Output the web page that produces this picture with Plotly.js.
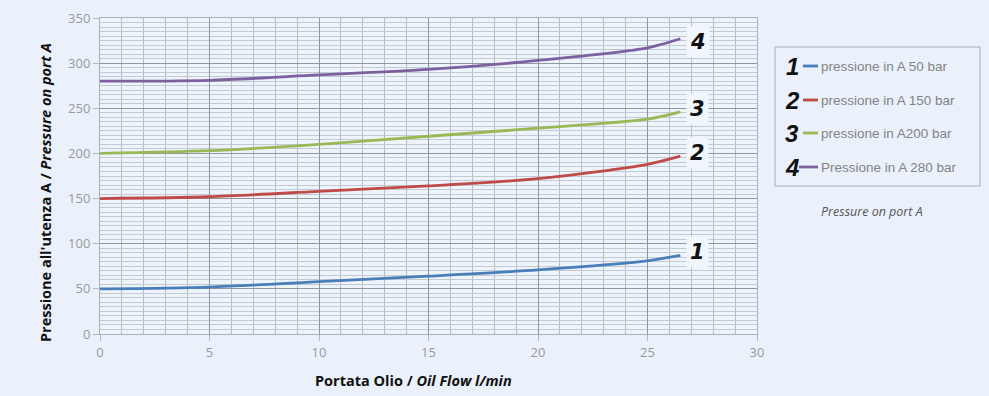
<!DOCTYPE html>
<html>
<head>
<meta charset="utf-8">
<script src="https://cdn.plot.ly/plotly-3.0.1.min.js"></script>
<style>html,body{margin:0;padding:0;background:#eaf1fb;}</style>
</head>
<body>
<div id="chart" style="width:989px;height:396px;"></div>
<script>
// Data
const flow = [0, 5, 10, 15, 20, 25, 26.5];
const p50  = [50, 52, 58, 64, 71, 81, 87];
const p150 = [150, 152, 158, 164, 172, 188, 197];
const p200 = [200, 203, 210, 219, 228, 238, 246];
const p280 = [280, 281, 287, 293, 303, 317, 327];
const seriesNames = ["pressione in A 50 bar", "pressione in A 150 bar", "pressione in A200 bar", "Pressione in A 280 bar"];
const seriesNums = ["1", "2", "3", "4"];
const seriesColors = ["#4a7ebb", "#be4b48", "#98b954", "#7d60a0"];
const seriesData = [p50, p150, p200, p280];

const traces = seriesData.map((ys, i) => ({
  x: flow, y: ys, type: "scatter", mode: "lines",
  line: {color: seriesColors[i], width: 2.8, shape: "spline", smoothing: 0.8},
  name: seriesNames[i], showlegend: false, hoverinfo: "skip"
}));

const annotations = [];
const shapes = [];
// number labels at the end of each curve
const labelOffsets = [4, 3, 3, -4];
seriesData.forEach((ys, i) => {
  annotations.push({
    x: 27.3, y: ys[ys.length - 1] + labelOffsets[i], xref: "x", yref: "y",
    xanchor: "center", yanchor: "middle",
    text: "<b><i>" + seriesNums[i] + "</i></b>", showarrow: false,
    font: {family: "DejaVu Sans", size: 21, color: "#111"},
    bgcolor: "#f1f6fc", borderpad: 3
  });
});

// custom legend (paper coordinates)
const W = 989, H = 396, mL = 100, mR = 232, mT = 18, mB = 62;
const pw = W - mL - mR, ph = H - mT - mB;
const px = v => (v - mL) / pw;
const py = v => (H - mB - v) / ph;
shapes.push({type: "rect", xref: "paper", yref: "paper",
  x0: px(775), x1: px(980), y0: py(47), y1: py(186),
  line: {color: "#9fb0c4", width: 1}, fillcolor: "#eaf1fb", layer: "below"});
const legY = [66, 100, 133, 167];
legY.forEach((yy, i) => {
  annotations.push({x: px(792), y: py(yy), xref: "paper", yref: "paper",
    xanchor: "center", yanchor: "middle",
    text: "<b><i>" + seriesNums[i] + "</i></b>", showarrow: false,
    font: {family: "Liberation Sans", size: 24, color: "#111"}});
  shapes.push({type: "line", xref: "paper", yref: "paper",
    x0: px(i === 3 ? 799 : 803), x1: px(818), y0: py(yy), y1: py(yy),
    line: {color: seriesColors[i], width: 2.8}});
  annotations.push({x: px(819), y: py(yy), xref: "paper", yref: "paper",
    xanchor: "left", yanchor: "middle", text: seriesNames[i], showarrow: false,
    font: {family: "Liberation Sans", size: 13.5, color: "#838383"}});
});
annotations.push({x: px(872), y: py(212), xref: "paper", yref: "paper",
  xanchor: "center", yanchor: "middle",
  text: "<i>Pressure on port A</i>", showarrow: false,
  font: {family: "Open Sans", size: 12.5, color: "#555"}});

// axis titles
annotations.push({x: px(413), y: py(381), xref: "paper", yref: "paper",
  xanchor: "center", yanchor: "middle",
  text: "<b>Portata Olio / <i>Oil Flow l/min</i></b>", showarrow: false,
  font: {family: "Open Sans", size: 14.5, color: "#111"}});
annotations.push({x: px(45), y: py(193), xref: "paper", yref: "paper",
  xanchor: "center", yanchor: "middle",
  text: "<b>Pressione all'utenza A / <i>Pressure on port A</i></b>", showarrow: false,
  textangle: -90, font: {family: "Open Sans", size: 14.5, color: "#111"}});

const layout = {
  width: W, height: H,
  margin: {l: mL, r: mR, t: mT, b: mB},
  paper_bgcolor: "#eaf1fb",
  plot_bgcolor: "#eef4fc",
  showlegend: false,
  xaxis: {
    range: [0, 30], dtick: 5, tick0: 0,
    showgrid: true, gridcolor: "#8f979f", gridwidth: 1,
    minor: {dtick: 1, showgrid: true, gridcolor: "#b4bcc4", gridwidth: 1},
    ticks: "outside", ticklen: 6, tickcolor: "#b0b8c0",
    showline: true, linecolor: "#a9b1b9", mirror: true, zeroline: false,
    tickfont: {family: "Open Sans", size: 13, color: "#999"}
  },
  yaxis: {
    range: [0, 350], dtick: 50, tick0: 0,
    showgrid: true, gridcolor: "#8f979f", gridwidth: 1,
    minor: {dtick: 5, showgrid: true, gridcolor: "#c3cad2", gridwidth: 1},
    ticks: "outside", ticklen: 6, tickcolor: "#b0b8c0",
    showline: true, linecolor: "#a9b1b9", mirror: true, zeroline: false,
    tickfont: {family: "Open Sans", size: 13, color: "#999"}
  },
  annotations: annotations,
  shapes: shapes
};

Plotly.newPlot("chart", traces, layout, {staticPlot: true, displayModeBar: false});
</script>
</body>
</html>
